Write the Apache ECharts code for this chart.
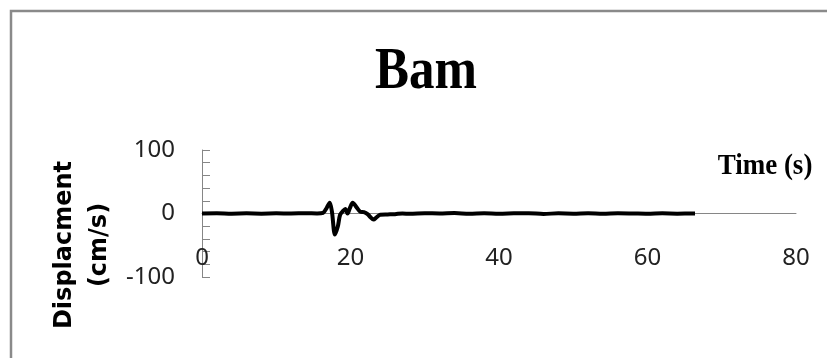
<!DOCTYPE html>
<html>
<head>
<meta charset="utf-8">
<script src="https://cdn.jsdelivr.net/npm/echarts@6/dist/echarts.min.js"></script>
<style>
html,body{margin:0;padding:0;background:#fff;}
#c{width:827px;height:358px;}
</style>
</head>
<body>
<div id="c"></div>
<script>
const chartTitle = 'Bam';
const xAxisTitle = 'Time (s)';
const yAxisTitle = 'Displacment\n(cm/s)';
const xTicks = [0, 20, 40, 60, 80];
const yTicks = [-100, 0, 100];
const times = [0, 2, 4, 6, 8, 10, 12, 14, 15.5, 16.3, 16.8, 17.2, 17.5, 17.9, 18.3, 18.6, 19.0, 19.3, 19.6, 19.9, 20.3, 20.8, 21.3, 21.8, 22.3, 22.7, 23.1, 23.5, 24.0, 25, 26, 27, 28, 30, 32, 34, 36, 38, 40, 42, 44, 46, 48, 50, 52, 54, 56, 58, 60, 62, 64, 66.4];
const displacement = [0, 0.3, -0.3, 0.2, -0.2, 0.3, 0, 0.4, 0, 1, 9, 17, 3, -33, -20, -2, 4, 7, 0, 8, 17, 10, 3, 2, -1, -6, -9.5, -6, -2, -1.5, -1, 0, -0.5, 0.5, 0, 0.6, -0.4, 0.3, -0.5, 0.2, 0.5, -0.6, 0.2, -0.3, 0.4, -0.5, 0.3, 0, -0.4, 0.3, -0.2, 0];

const chart = echarts.init(document.getElementById('c'));
chart.setOption({
  animation: false,
  grid: {left: 202, right: 31, top: 150, bottom: 81, containLabel: false},
  xAxis: {
    type: 'value', min: xTicks[0], max: xTicks[xTicks.length - 1], interval: 20,
    axisLine: {onZero: true, lineStyle: {color: '#868686', width: 1}},
    axisTick: {show: false},
    splitLine: {show: false},
    axisLabel: {fontFamily: 'Noto Sans', fontSize: 24, color: '#222', margin: -31}
  },
  yAxis: {
    type: 'value', min: yTicks[0], max: yTicks[yTicks.length - 1], interval: 20,
    axisLine: {show: true, lineStyle: {color: '#868686', width: 1}},
    axisTick: {show: true, inside: true, length: 8, lineStyle: {color: '#868686'}},
    splitLine: {show: false},
    axisLabel: {
      fontFamily: 'Noto Sans', fontSize: 24, color: '#222', margin: 27,
      formatter: v => (yTicks.indexOf(v) >= 0 ? String(v) : '')
    }
  },
  graphic: [
    {type: 'rect', shape: {x: 11, y: 11, width: 900, height: 400}, style: {fill: null, stroke: '#8a8a8a', lineWidth: 2.5}, silent: true},
    {type: 'text', x: 426, y: 73, scaleY: 1.15, style: {text: chartTitle, x: 0, y: 0, font: 'bold 51px "Liberation Serif"', fill: '#000', textAlign: 'center', textVerticalAlign: 'middle'}},
    {type: 'text', x: 765, y: 166, scaleY: 1.12, style: {text: xAxisTitle, x: 0, y: 0, font: 'bold 27px "Liberation Serif"', fill: '#000', textAlign: 'center', textVerticalAlign: 'middle'}},
    {type: 'text', x: 82, y: 245, rotation: Math.PI / 2, style: {text: yAxisTitle, x: 0, y: 0, font: 'bold 24px "DejaVu Sans"', lineHeight: 35, fill: '#000', textAlign: 'center', textVerticalAlign: 'middle'}}
  ],
  series: [{
    type: 'line', showSymbol: false, smooth: 0.3,
    data: times.map((t, i) => [t, displacement[i]]),
    lineStyle: {color: '#000', width: 4}
  }]
});
</script>
</body>
</html>
